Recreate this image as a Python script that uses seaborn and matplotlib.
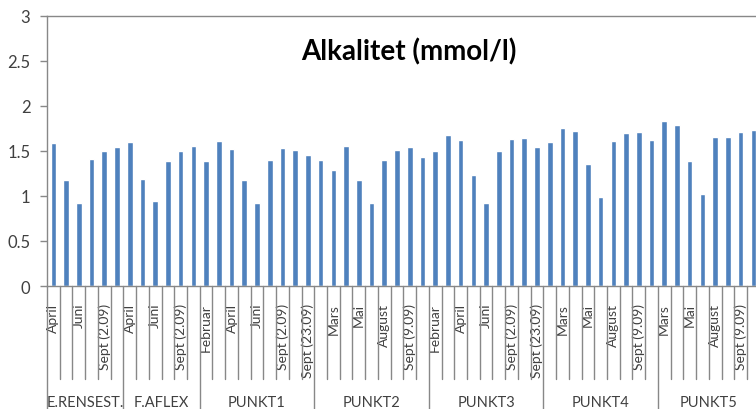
import matplotlib
matplotlib.use("Agg")
import matplotlib.pyplot as plt
import matplotlib.transforms as mtransforms
import seaborn as sns
import pandas as pd

# Sampling sites and the sampling dates at each site
groups = ["E.RENSEST.", "F.AFLEX", "PUNKT1", "PUNKT2", "PUNKT3", "PUNKT4", "PUNKT5"]
dates_short = ["April", "Mai", "Juni", "August", "Sept (2.09)", "Sept (9.09)"]
dates_full = ["Februar", "Mars", "April", "Mai", "Juni", "August",
              "Sept (2.09)", "Sept (9.09)", "Sept (23.09)"]
dates_p5 = ["Mars", "April", "Mai", "Juni", "August", "Sept (2.09)", "Sept (9.09)", "Sept (23.09)"]
group_dates = [dates_short, dates_short, dates_full, dates_full, dates_full, dates_full, dates_p5]

# Alkalinity (mmol/l) per site, in date order
alk_erensest = [1.585, 1.178, 0.918, 1.407, 1.504, 1.548]
alk_faflex = [1.604, 1.193, 0.948, 1.393, 1.504, 1.559]
alk_punkt1 = [1.393, 1.615, 1.518, 1.178, 0.918, 1.400, 1.530, 1.515, 1.456]
alk_punkt2 = [1.404, 1.293, 1.559, 1.178, 0.918, 1.400, 1.515, 1.541, 1.430]
alk_punkt3 = [1.496, 1.681, 1.626, 1.230, 0.926, 1.496, 1.630, 1.641, 1.548]
alk_punkt4 = [1.600, 1.759, 1.719, 1.359, 0.993, 1.615, 1.704, 1.715, 1.619]
alk_punkt5 = [1.830, 1.785, 1.393, 1.019, 1.659, 1.659, 1.711, 1.730]
group_values = [alk_erensest, alk_faflex, alk_punkt1, alk_punkt2, alk_punkt3, alk_punkt4, alk_punkt5]

yticks = [0, 0.5, 1, 1.5, 2, 2.5, 3]

rows = []
for g, ds, vs in zip(groups, group_dates, group_values):
    for d, v in zip(ds, vs):
        rows.append({"site": g, "date": d, "alk": v, "key": f"{g}|{d}"})
df = pd.DataFrame(rows)
n = len(df)

sns.set_theme(style="white")
plt.rcParams["font.family"] = ["Lato", "DejaVu Sans"]

BLUE = "#4F81BD"
GRAY = "#888888"
TXT = "#404040"

fig = plt.figure(figsize=(7.56, 4.10), dpi=100)
ax = fig.add_axes([47 / 756, 123 / 410, 1 - 47 / 756, 270 / 410])

sns.barplot(data=df, x="key", y="alk", color=BLUE, width=0.44,
            saturation=1, ax=ax, order=list(df["key"]))

ax.set_ylim(0, 3)
ax.set_xlim(-0.5, 55.21)
ax.set_yticks(yticks)
ax.set_yticklabels([f"{t:g}" for t in yticks], fontsize=12, color=TXT)
ax.set_ylabel("")
ax.set_xlabel("")

for s in ["left", "bottom", "top"]:
    ax.spines[s].set_color(GRAY)
    ax.spines[s].set_linewidth(1.0)
ax.spines["right"].set_visible(False)
ax.tick_params(axis="y", left=True, length=5, width=1, color=GRAY, pad=7)

# category labels: every second date, rotated
label_pos = list(range(0, n, 2))
ax.set_xticks(label_pos)
ax.set_xticklabels([df["date"][i] for i in label_pos], rotation=90,
                   fontsize=10, color=TXT, va="top", ha="center")
ax.tick_params(axis="x", bottom=False, length=0, pad=12)

# separator lines below the axis
trans = mtransforms.blended_transform_factory(ax.transData, fig.transFigure)
y_axis = 123 / 410
y_inner = 30 / 410
y_outer = 0.0
boundaries = []
start = 0
for vs in group_values:
    boundaries.append(start)
    start += len(vs)
group_edges = set(boundaries + [start])
for b in range(0, n + 1):
    y_end = y_outer if b in group_edges else y_inner
    ax.plot([b - 0.5, b - 0.5], [y_axis, y_end], color=GRAY, lw=1.0,
            transform=trans, clip_on=False)

# site labels
start = 0
for g, vs in zip(groups, group_values):
    mid = start + (len(vs) - 1) / 2
    ax.text(mid, 7 / 410, g, transform=trans, ha="center", va="center",
            fontsize=10.5, color=TXT)
    start += len(vs)

fig.text(409 / 756, 1 - 52 / 410, "Alkalitet (mmol/l)", ha="center", va="center",
         fontsize=20, fontweight="bold", color="black")

fig.savefig("out.png", dpi=100)
